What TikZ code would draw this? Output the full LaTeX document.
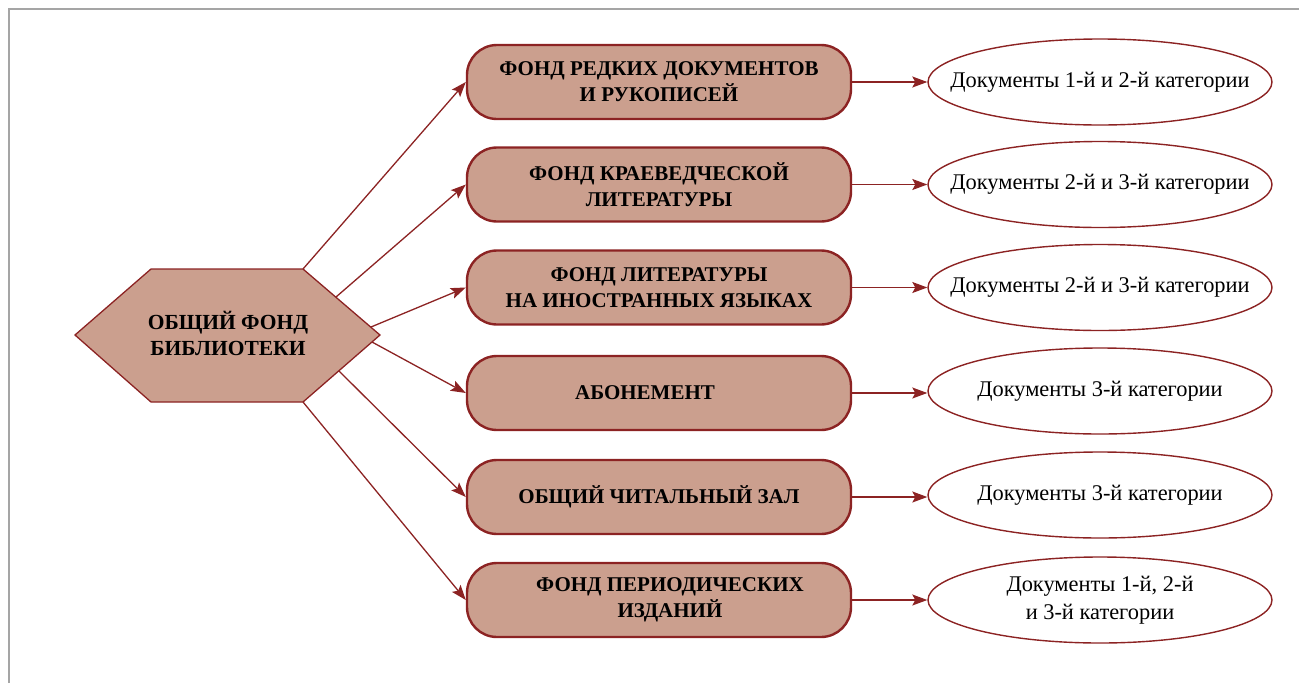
\documentclass[tikz,border=0pt]{standalone}
\usepackage{fontspec}
\setmainfont{Liberation Serif}
\usetikzlibrary{arrows.meta,shapes.geometric}
\definecolor{brd}{RGB}{140,35,35}
\definecolor{fillc}{RGB}{203,159,142}
\definecolor{frm}{RGB}{165,165,165}
\begin{document}
\begin{tikzpicture}[x=1pt,y=-1pt,
  fondbox/.style={draw=brd,fill=fillc,line width=2.4pt,rounded corners=30pt,
    minimum width=384pt,minimum height=74pt,align=center,
    font=\fontsize{21}{26}\selectfont\bfseries,inner sep=0pt},
  docell/.style={draw=brd,line width=1.4pt,ellipse,minimum width=344pt,minimum height=86pt,
    align=center,font=\fontsize{22.4}{28}\selectfont,inner xsep=-40pt,inner ysep=-12pt},
  link/.style={draw=brd,line width=1.3pt,-{Stealth[length=15pt,width=11pt,inset=3pt]}}]
\useasboundingbox (0,0) rectangle (1299,683);
% frame
\draw[frm,line width=1.5pt] (9,683) -- (9,9) -- (1299,9);
% hexagon
\draw[brd,fill=fillc,line width=1.3pt] (75,335) -- (151,269) -- (303,269) -- (380,335) -- (303,402) -- (151,402) -- cycle;
\node[font=\fontsize{21.5}{26}\selectfont\bfseries,align=center] (hex) at (228,333) {ОБЩИЙ ФОНД\\БИБЛИОТЕКИ};
\coordinate (h1) at (303,269);
\coordinate (h2) at (336,297);
\coordinate (h3) at (371,327);
\coordinate (h4) at (372,342);
\coordinate (h5) at (339,371);
\coordinate (h6) at (303,402);
% boxes
\node[fondbox] (b1) at (659,82) {ФОНД РЕДКИХ ДОКУМЕНТОВ\\И РУКОПИСЕЙ};
\node[fondbox] (b2) at (659,184.5) {ФОНД КРАЕВЕДЧЕСКОЙ\\ЛИТЕРАТУРЫ};
\node[fondbox] (b3) at (659,287.5) {ФОНД ЛИТЕРАТУРЫ\\НА ИНОСТРАННЫХ ЯЗЫКАХ};
\node[fondbox] (b4) at (659,393) {\hspace*{-28pt}АБОНЕМЕНТ};
\node[fondbox] (b5) at (659,497) {ОБЩИЙ ЧИТАЛЬНЫЙ ЗАЛ};
\node[fondbox] (b6) at (659,600) {\hspace*{22pt}ФОНД ПЕРИОДИЧЕСКИХ\\\hspace*{22pt}ИЗДАНИЙ};
% ellipses
\node[docell] (e1) at (1100,82) {Документы 1-й и 2-й категории};
\node[docell] (e2) at (1100,184.5) {Документы 2-й и 3-й категории};
\node[docell] (e3) at (1100,287.5) {Документы 2-й и 3-й категории};
\node[docell] (e4) at (1100,391) {Документы 3-й категории};
\node[docell] (e5) at (1100,495) {Документы 3-й категории};
\node[docell] (e6) at (1100,600) {Документы 1-й, 2-й\\и 3-й категории};
% connectors
\draw[link] (h1) -- (b1.west);
\draw[link] (h2) -- (b2.west);
\draw[link] (h3) -- (b3.west);
\draw[link] (h4) -- (b4.west);
\draw[link] (h5) -- (b5.west);
\draw[link] (h6) -- (b6.west);
\foreach \i in {1,...,6} {\draw[link] (b\i.east) -- (e\i.west |- b\i.east);}
\end{tikzpicture}
\end{document}
